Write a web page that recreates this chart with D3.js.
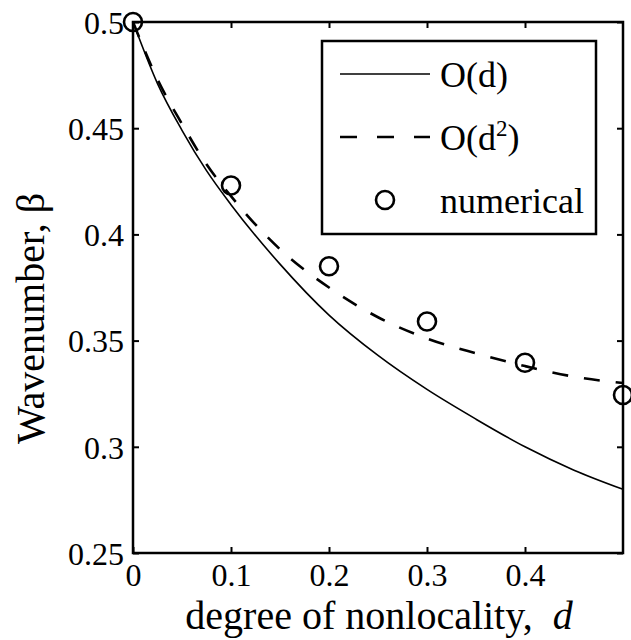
<!DOCTYPE html>
<html>
<head>
<meta charset="utf-8">
<script src="https://cdn.jsdelivr.net/npm/d3@7"></script>
<style>
  body { margin: 0; background: #fff; }
  svg text { font-family: "Liberation Serif", "Times New Roman", serif !important; fill: #000; }
</style>
</head>
<body>
<div id="main"></div>
<script>

//=============== DATA ===================
var dVals   = [0, 0.025, 0.05, 0.075, 0.1, 0.15, 0.2, 0.25, 0.3, 0.35, 0.4, 0.45, 0.5];
var firstOrder  = [0.5, 0.471, 0.449, 0.430, 0.414, 0.386, 0.362, 0.343, 0.327, 0.313, 0.300, 0.289, 0.280];
var secondOrder = [0.5, 0.473, 0.452, 0.433, 0.418, 0.393, 0.375, 0.361, 0.351, 0.344, 0.338, 0.333, 0.330];

var numD   = [0, 0.1, 0.2, 0.3, 0.4, 0.5];
var numVal = [0.5, 0.423, 0.385, 0.359, 0.3396, 0.3244];

var xTicks = [0, 0.1, 0.2, 0.3, 0.4];
var yTicks = [0.25, 0.3, 0.35, 0.4, 0.45, 0.5];

//=============== LAYOUT ===================
var W = 631, H = 640,
    margin = {top: 22, right: 8, bottom: 87, left: 133},
    width = W - margin.left - margin.right,
    height = H - margin.top - margin.bottom,
    tickLen = 6,
    serif = "'Liberation Serif', 'Times New Roman', serif";

var svg = d3.select("#main").append("svg")
    .attr("width", W)
    .attr("height", H)
    .style("font-family", serif)
  .append("g")
    .attr("transform", "translate(" + margin.left + "," + margin.top + ")");

var x = d3.scaleLinear().domain([0, 0.5]).range([0, width]);
var y = d3.scaleLinear().domain([0.25, 0.5]).range([height, 0]);

// axes (ticks pointing inward, mirrored on top/right)
var fmt = function(d){ return String(+d.toFixed(2)); };

var xAxis = svg.append("g")
    .attr("transform", "translate(0," + height + ")")
    .call(d3.axisBottom(x).tickValues(xTicks).tickSizeInner(-tickLen).tickSizeOuter(0).tickPadding(10).tickFormat(fmt));

var yAxis = svg.append("g")
    .call(d3.axisLeft(y).tickValues(yTicks).tickSizeInner(-tickLen).tickSizeOuter(0).tickPadding(9).tickFormat(fmt));

svg.append("g")
    .call(d3.axisTop(x).tickValues(xTicks).tickSizeInner(-tickLen).tickSizeOuter(0).tickFormat(""));

svg.append("g")
    .attr("transform", "translate(" + width + ",0)")
    .call(d3.axisRight(y).tickValues(yTicks).tickSizeInner(-tickLen).tickSizeOuter(0).tickFormat(""));

svg.selectAll(".domain").remove();
svg.selectAll("g").attr("font-family", null);
svg.selectAll(".tick line").attr("stroke", "#000").attr("stroke-width", 2);
svg.selectAll(".tick text")
    .attr("fill", "#000")
    .style("font-family", serif)
    .style("font-size", "32px");
xAxis.selectAll(".tick text").attr("dy", "0.71em");
yAxis.selectAll(".tick text").attr("dy", "0.35em");

svg.append("rect")
    .attr("x", 0).attr("y", 0)
    .attr("width", width).attr("height", height)
    .attr("fill", "none")
    .attr("stroke", "#000")
    .attr("stroke-width", 2.5);

//=============== CURVES ===================
var line = d3.line()
    .x(function(d){ return x(d[0]); })
    .y(function(d){ return y(d[1]); })
    .curve(d3.curveMonotoneX);

svg.append("path")
    .datum(d3.zip(dVals, firstOrder))
    .attr("d", line)
    .attr("fill", "none")
    .attr("stroke", "#000")
    .attr("stroke-width", 1.6);

svg.append("path")
    .datum(d3.zip(dVals, secondOrder))
    .attr("d", line)
    .attr("fill", "none")
    .attr("stroke", "#000")
    .attr("stroke-width", 2.6)
    .attr("stroke-dasharray", "16,16");

svg.selectAll(".num")
    .data(d3.zip(numD, numVal))
    .enter()
    .append("circle")
    .attr("class", "num")
    .attr("cx", function(d){ return x(d[0]); })
    .attr("cy", function(d){ return y(d[1]); })
    .attr("r", 9)
    .attr("fill", "none")
    .attr("stroke", "#000")
    .attr("stroke-width", 2.6);

//=============== LEGEND ===================
var leg = svg.append("g")
    .attr("transform", "translate(" + (322 - margin.left) + "," + (41 - margin.top) + ")");

leg.append("rect")
    .attr("width", 274).attr("height", 193)
    .attr("fill", "#fff")
    .attr("stroke", "#000")
    .attr("stroke-width", 2.5);

leg.append("line")
    .attr("x1", 18).attr("x2", 108).attr("y1", 33).attr("y2", 33)
    .attr("stroke", "#000").attr("stroke-width", 1.6);

leg.append("line")
    .attr("x1", 18).attr("x2", 108).attr("y1", 96).attr("y2", 96)
    .attr("stroke", "#000").attr("stroke-width", 2.6)
    .attr("stroke-dasharray", "17,20");

leg.append("circle")
    .attr("cx", 63).attr("cy", 159).attr("r", 9)
    .attr("fill", "none").attr("stroke", "#000").attr("stroke-width", 2.6);

leg.append("text")
    .attr("x", 118).attr("y", 33).attr("dy", "0.35em")
    .style("font-size", "36px")
    .text("O(d)");

var t2 = leg.append("text")
    .attr("x", 118).attr("y", 96).attr("dy", "0.35em")
    .style("font-size", "36px");
t2.append("tspan").text("O(d");
t2.append("tspan").style("font-size", "23px").attr("dy", "-0.6em").text("2");
t2.append("tspan").attr("dy", "0.38em").text(")");

leg.append("text")
    .attr("x", 118).attr("y", 159).attr("dy", "0.35em")
    .style("font-size", "36px")
    .text("numerical");

//=============== AXIS LABELS ===================
var xl = svg.append("text")
    .attr("x", width / 2 + 1)
    .attr("y", height + 76)
    .attr("text-anchor", "middle")
    .style("font-size", "40px");
xl.append("tspan").text("degree of nonlocality,\u00a0\u00a0");
xl.append("tspan").style("font-style", "italic").text("d");

svg.append("text")
    .attr("transform", "translate(" + (-89) + "," + (height / 2 + 31) + ") rotate(-90)")
    .attr("text-anchor", "middle")
    .style("font-size", "40px")
    .text("Wavenumber, \u03b2");

</script>
</body>
</html>
